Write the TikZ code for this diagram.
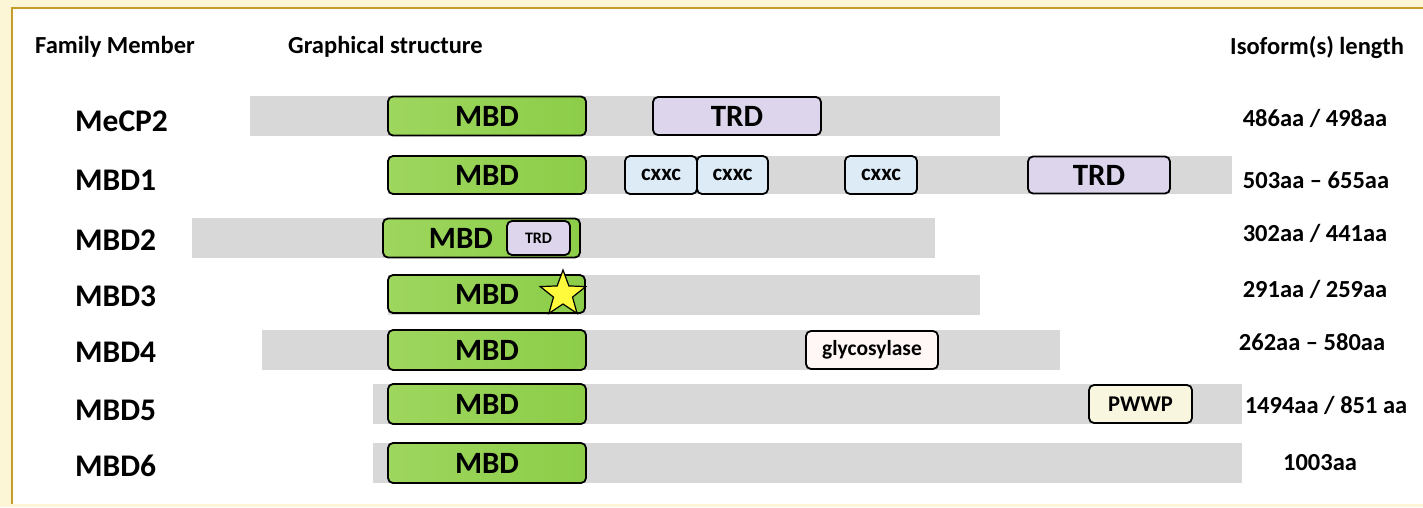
\documentclass[tikz,border=0pt]{standalone}
\usepackage{fontspec}
\setmainfont{Carlito}
\usetikzlibrary{shapes.geometric}
\definecolor{bgyel}{RGB}{253,246,214}
\definecolor{goldln}{RGB}{196,156,40}
\definecolor{barg}{RGB}{216,216,216}
\definecolor{mbdL}{RGB}{158,214,94}
\definecolor{mbdR}{RGB}{140,205,72}
\definecolor{trdc}{RGB}{220,213,236}
\definecolor{cxxcc}{RGB}{221,235,247}
\definecolor{glyc}{RGB}{255,246,246}
\definecolor{pwwpc}{RGB}{249,246,224}
\definecolor{stary}{RGB}{255,250,60}
\tikzset{
  fs/.style={font=\fontsize{#1}{#1}\selectfont\bfseries},
  bar/.style={draw=none, fill=barg, inner sep=0pt},
  dom/.style={draw=black, line width=1.8pt, rounded corners=5pt, inner sep=0pt},
  mbd/.style={dom, left color=mbdL, right color=mbdR},
  trd/.style={dom, fill=trdc},
  cxxc/.style={dom, fill=cxxcc, fs=23},
  glyco/.style={dom, fill=glyc, fs=21.5},
  pwwp/.style={dom, fill=pwwpc, fs=22.5},
  rowlab/.style={anchor=west, inner sep=0pt, fs=31.5},
  head/.style={anchor=west, inner sep=0pt, fs=24.5},
  iso/.style={inner sep=0pt, fs=24.5},
  lbl/.style={inner sep=0pt, fs=31}
}
\begin{document}
\begin{tikzpicture}[x=1pt,y=-1pt]
\useasboundingbox (0,0) rectangle (1423,507);
\fill[bgyel] (0,0) rectangle (1423,507);
\fill[white] (12,8) rectangle (1423,504);
\draw[goldln, line width=2.5pt] (12,504) -- (12,8) -- (1423,8);

% headers
\node[head] (hfam) at (35,47) {Family Member};
\node[head] (hgra) at (288,47) {Graphical structure};
\node[head] (hiso) at (1230,47) {Isoform(s) length};

% row labels
\node[rowlab] (lmecp2) at (75,121) {MeCP2};
\node[rowlab] (lmbd1) at (75,180) {MBD1};
\node[rowlab] (lmbd2) at (75,240) {MBD2};
\node[rowlab] (lmbd3) at (75,296) {MBD3};
\node[rowlab] (lmbd4) at (75,352) {MBD4};
\node[rowlab] (lmbd5) at (75,410) {MBD5};
\node[rowlab] (lmbd6) at (75,466) {MBD6};

% MeCP2
\node[bar, minimum width=750pt, minimum height=40pt] (b0) at (625,116) {};
\node[mbd, minimum width=198pt, minimum height=39pt] (m0) at (487,116) {};
\node[lbl] (m0t) at (487,116) {MBD};
\node[trd, minimum width=168pt, minimum height=38pt] (t0) at (737,116) {};
\node[lbl] (t0t) at (737,116) {TRD};

% MBD1
\node[bar, minimum width=843pt, minimum height=38pt] (b1) at (810.5,175) {};
\node[mbd, minimum width=198pt, minimum height=38pt] (m1) at (487,175) {};
\node[lbl] (m1t) at (487,175) {MBD};
\node[cxxc, minimum width=72pt, minimum height=38pt] (c1) at (661,175) {cxxc};
\node[cxxc, minimum width=71pt, minimum height=38pt] (c2) at (732.5,175) {cxxc};
\node[cxxc, minimum width=72pt, minimum height=38pt] (c3) at (881,175) {cxxc};
\node[trd, minimum width=142pt, minimum height=37pt] (t1) at (1099,175) {};
\node[lbl] (t1t) at (1099,175) {TRD};

% MBD2
\node[bar, minimum width=743pt, minimum height=40pt] (b2) at (563.5,238) {};
\node[mbd, minimum width=197pt, minimum height=39pt] (m2) at (481.5,238) {};
\node[lbl] (m2t) at (461,238) {MBD};
\node[trd, minimum width=63pt, minimum height=34pt, fs=16] (t2) at (538.5,238) {TRD};

% MBD3
\node[bar, minimum width=592pt, minimum height=40pt] (b3) at (684,295) {};
\node[mbd, minimum width=197pt, minimum height=38pt] (m3) at (486.5,294) {};
\node[lbl] (m3t) at (487,294) {MBD};
\node[star, star points=5, star point ratio=2.4, draw=black, line width=1.2pt, fill=stary, minimum size=48pt, inner sep=0pt] (s3) at (563,294) {};

% MBD4
\node[bar, minimum width=798pt, minimum height=40pt] (b4) at (661,350) {};
\node[mbd, minimum width=198pt, minimum height=40pt] (m4) at (487,350) {};
\node[lbl] (m4t) at (487,350) {MBD};
\node[glyco, minimum width=132pt, minimum height=38pt] (g4) at (872,350) {glycosylase};

% MBD5
\node[bar, minimum width=869pt, minimum height=40pt] (b5) at (807.5,404) {};
\node[mbd, minimum width=198pt, minimum height=40pt] (m5) at (487,404) {};
\node[lbl] (m5t) at (487,404) {MBD};
\node[pwwp, minimum width=103pt, minimum height=38pt] (p5) at (1140.5,404) {PWWP};

% MBD6
\node[bar, minimum width=869pt, minimum height=40pt] (b6) at (807.5,463) {};
\node[mbd, minimum width=198pt, minimum height=40pt] (m6) at (487,463) {};
\node[lbl] (m6t) at (487,463) {MBD};

% isoform lengths
\node[iso] (i0) at (1315,118) {486aa / 498aa};
\node[iso] (i1) at (1316,180) {503aa – 655aa};
\node[iso] (i2) at (1315,233) {302aa / 441aa};
\node[iso] (i3) at (1315,289) {291aa / 259aa};
\node[iso] (i4) at (1312,342) {262aa – 580aa};
\node[iso] (i5) at (1326,405) {1494aa / 851 aa};
\node[iso] (i6) at (1320,463) {1003aa};
\end{tikzpicture}
\end{document}
